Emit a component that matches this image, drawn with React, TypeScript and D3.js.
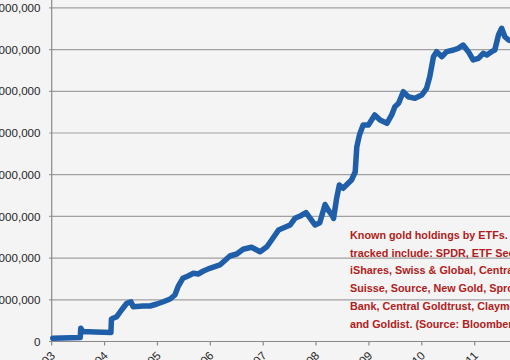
import React from "react";
import * as d3 from "d3";

const years: number[] = [
  2003.02, 2003.54, 2003.55, 2003.59, 2003.82, 2004.12, 2004.13, 2004.16, 2004.23, 2004.32,
  2004.42, 2004.5, 2004.54, 2004.73, 2004.86, 2004.99, 2005.11, 2005.24, 2005.33, 2005.39,
  2005.48, 2005.58, 2005.68, 2005.77, 2005.87, 2005.99, 2006.18, 2006.37, 2006.5, 2006.62,
  2006.78, 2006.94, 2007.07, 2007.16, 2007.29, 2007.41, 2007.51, 2007.6, 2007.7, 2007.81,
  2007.89, 2007.98, 2008.07, 2008.17, 2008.23, 2008.3, 2008.33, 2008.39, 2008.44, 2008.51,
  2008.67, 2008.74, 2008.77, 2008.82, 2008.89, 2008.99, 2009.11, 2009.21, 2009.34, 2009.43,
  2009.49, 2009.56, 2009.65, 2009.74, 2009.87, 2010.0, 2010.09, 2010.15, 2010.22, 2010.28,
  2010.38, 2010.47, 2010.6, 2010.69, 2010.78, 2010.88, 2010.97, 2011.07, 2011.16, 2011.23,
  2011.32, 2011.38, 2011.45, 2011.51, 2011.57, 2011.64, 2011.71,
];

// known ETF gold holdings, millions of ounces
const holdings: number[] = [
  0.77, 0.96, 3.17, 2.4, 2.28, 2.16, 5.4, 5.56, 5.95, 7.55,
  9.16, 9.54, 8.35, 8.51, 8.51, 8.99, 9.54, 10.19, 11.15, 13.14,
  15.16, 15.71, 16.35, 16.19, 16.91, 17.55, 18.35, 20.5, 20.98, 22.11,
  22.59, 21.53, 22.73, 24.34, 26.74, 27.39, 27.94, 29.54, 30.1, 30.89,
  29.54, 27.94, 28.49, 32.85, 31.53, 30.34, 29.5, 34.41, 37.53, 36.74,
  38.73, 40.65, 46.65, 49.52, 51.92, 51.92, 54.32, 53.12, 52.33, 54.32,
  56.31, 57.12, 59.9, 58.7, 58.32, 59.11, 60.72, 63.5, 68.3, 69.5,
  68.3, 69.5, 69.9, 70.31, 71.1, 69.5, 67.51, 67.91, 69.11, 68.7,
  69.5, 69.9, 73.5, 75.11, 73.09, 72.3, 72.06,
];

const yTicks: number[] = [0, 10, 20, 30, 40, 50, 60, 70, 80];
const xTicks: number[] = [2003, 2004, 2005, 2006, 2007, 2008, 2009, 2010, 2011];

const noteLines: string[] = [
  "Known gold holdings by ETFs. We",
  "tracked include: SPDR, ETF Securities,",
  "iShares, Swiss & Global, Central Fund,",
  "Suisse, Source, New Gold, Sprott, ZKB,",
  "Bank, Central Goldtrust, Claymore,",
  "and Goldist. (Source: Bloomberg)",
];

export default function App() {
  const W = 510;
  const H = 360;
  const x = d3.scaleLinear().domain([2003, 2011]).range([51.7, 474.7]);
  const y = d3.scaleLinear().domain([0, 80]).range([341.5, 7.9]);
  const fmt = d3.format(",");
  const pts = years.map((yr, i) => [yr, holdings[i]] as [number, number]);
  const line = d3
    .line<[number, number]>()
    .x((d) => x(d[0]))
    .y((d) => y(d[1]))
    .curve(d3.curveLinear);

  const font = "'Liberation Sans', Arial, Helvetica, sans-serif";

  return (
    <div style={{ position: "fixed", left: 0, top: 0, width: W, height: H }}>
      <svg width={W} height={H} style={{ display: "block" }} fontFamily={font}>
        <rect x={0} y={0} width={W} height={H} fill="#f4f4f4" />
        {yTicks.map((t) =>
          t === 0 ? null : (
            <line key={"g" + t} x1={49} x2={W} y1={y(t)} y2={y(t)} stroke="#a0a0a0" strokeWidth={1.2} />
          )
        )}
        {yTicks.map((t) => (
          <text
            key={"yl" + t}
            x={40.5}
            y={y(t)}
            dy="0.36em"
            textAnchor="end"
            fontSize={11.6}
            fill="#262626"
          >
            {fmt(t * 1000000)}
          </text>
        ))}
        <line x1={x(2003)} x2={x(2003)} y1={0} y2={y(0)} stroke="#8a8a8a" strokeWidth={1.2} />
        <line x1={49} x2={W} y1={y(0)} y2={y(0)} stroke="#8a8a8a" strokeWidth={1.2} />
        {xTicks.map((t) => (
          <g key={"xt" + t}>
            <line x1={x(t)} x2={x(t)} y1={y(0)} y2={y(0) + 4} stroke="#8a8a8a" strokeWidth={1.2} />
            <text
              transform={`translate(${x(t) + 4},${y(0) + 15}) rotate(-45)`}
              textAnchor="end"
              fontSize={11.6}
              fill="#262626"
            >
              {String(t)}
            </text>
          </g>
        ))}
        <path
          d={line(pts) || ""}
          fill="none"
          stroke="#1f5ea8"
          strokeWidth={5.5}
          strokeLinejoin="round"
          strokeLinecap="round"
        />
        {noteLines.map((s, i) => (
          <text
            key={"n" + i}
            x={350}
            y={238.8 + i * 17.8}
            fontSize={10.8}
            fontWeight="bold"
            fill="#b01c20"
          >
            {s}
          </text>
        ))}
      </svg>
    </div>
  );
}
